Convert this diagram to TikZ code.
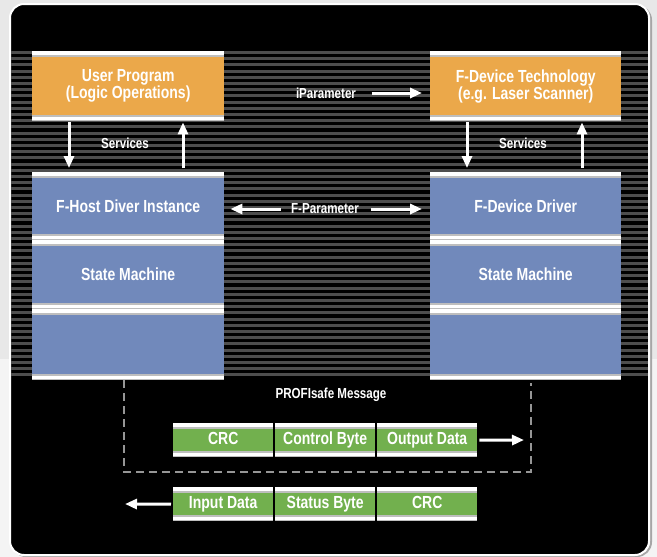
\documentclass[tikz,border=0pt]{standalone}
\usepackage{fontspec}
\setmainfont{Liberation Sans}[FakeStretch=0.8]
\usepackage{tikz}
\usetikzlibrary{arrows.meta}

\definecolor{userorange}{RGB}{235,168,74}
\definecolor{drvblue}{RGB}{113,137,187}
\definecolor{msggreen}{RGB}{114,176,78}
\definecolor{stripegray}{RGB}{78,78,78}
\definecolor{loopgray}{RGB}{150,150,150}
\definecolor{bargray}{RGB}{190,190,190}
\definecolor{bgtop}{RGB}{232,232,232}
\definecolor{bgbot}{RGB}{244,244,244}

\tikzset{
  layer/.style={anchor=north west, inner sep=0pt, minimum width=192pt, text=white,
    align=center, font=\bfseries\fontsize{17.5}{17}\selectfont,
    path picture={
      \fill[white] (path picture bounding box.north west) rectangle ([yshift=-6pt]path picture bounding box.north east);
      \fill[bargray] ([yshift=-4pt]path picture bounding box.north west) rectangle ([yshift=-6pt]path picture bounding box.north east);
      \fill[white] ([yshift=6pt]path picture bounding box.south west) rectangle (path picture bounding box.south east);
      \fill[bargray] ([yshift=6pt]path picture bounding box.south west) rectangle ([yshift=4pt]path picture bounding box.south east);
      \fill[bargray] ([yshift=1.2pt]path picture bounding box.south west) rectangle (path picture bounding box.south east);
    }},
  usrbox/.style={layer, fill=userorange, minimum height=70pt},
  drvbox/.style={layer, fill=drvblue},
  msgbox/.style={layer, fill=msggreen, minimum width=100pt, minimum height=34pt,
    text height=12.5pt, text depth=3.5pt},
  lbl/.style={text=white, font=\bfseries\fontsize{14.5}{15}\selectfont},
  arr/.style={white, line width=3pt, -{Triangle[length=12pt,width=10pt]}},
  msgloop/.style={loopgray, line width=1.5pt, dash pattern=on 8pt off 5pt},
}

\begin{document}
\begin{tikzpicture}[x=1pt,y=-1pt]

	\useasboundingbox (0,0) rectangle (657,557);
	
	% frame
	\fill[bgtop] (0,0) rectangle (657,359);
	\fill[bgbot] (0,359) rectangle (657,557);
	\draw[black!35, line width=2pt, rounded corners=14pt] (12,6) rectangle (651,556);
	\draw[white, line width=2pt, fill=black, rounded corners=14pt] (10,4) rectangle (649,555);
	\foreach \i in {0,...,52}
		\fill[stripegray] (11,{51+6.2*\i}) rectangle (648,{54+6.2*\i});
	
	% host side
	\node[usrbox] (up) at (32,51) {User Program\\(Logic Operations)};
	\node[drvbox, minimum height=68pt] (hd) at (32,172) {F-Host Diver Instance};
	\node[drvbox, minimum height=69pt] (hs) at (32,240) {State Machine};
	\node[drvbox, minimum height=71pt] (hx) at (32,309) {};
	
	% device side
	\node[usrbox, minimum width=191pt] (dt) at (430,51) {F-Device Technology\\(e.g. Laser Scanner)};
	\node[drvbox, minimum width=191pt, minimum height=68pt] (dd) at (430,172) {F-Device Driver};
	\node[drvbox, minimum width=191pt, minimum height=69pt] (ds) at (430,240) {State Machine};
	\node[drvbox, minimum width=191pt, minimum height=71pt] (dx) at (430,309) {};
	
	% labels
	\node[lbl] (hsv) at (125,143) {Services};
	\node[lbl] (dsv) at (523,143) {Services};
	\node[lbl] (ip) at (326,93) {iParameter};
	\node[lbl] (fp) at (325,209) {F-Parameter};
	\node[lbl] (pm) at (331,395) {PROFIsafe Message};
	
	\draw[arr, shorten <=1pt, shorten >=4pt] ([xshift=37pt]up.south west) -- ([xshift=37pt]hd.north west);
	\draw[arr, shorten <=4pt, shorten >=1pt] ([xshift=151pt]hd.north west) -- ([xshift=151pt]up.south west);
	\draw[arr, shorten <=1pt, shorten >=4pt] ([xshift=37pt]dt.south west) -- ([xshift=37pt]dd.north west);
	\draw[arr, shorten <=4pt, shorten >=1pt] ([xshift=152pt]dd.north west) -- ([xshift=152pt]dt.south west);
	\draw[arr, shorten <=12pt, shorten >=8pt] (ip.east) -- (dt.west |- ip.east);
	\draw[arr, shorten <=7pt, shorten >=6pt] (fp.west) -- (hd.east |- fp.west);
	\draw[arr, shorten <=9pt, shorten >=8pt] (fp.east) -- (dd.west |- fp.east);
	
	% message
	\coordinate (loopr) at (531,472);
	\draw[msgloop] ([xshift=92pt]hx.south west) |- (loopr) -- ([xshift=101pt,yshift=-3pt]dx.south west);
	
	\node[msgbox] (crc1) at (173,423) {CRC};
	\node[msgbox] (cb) at (275,423) {Control Byte};
	\node[msgbox] (od) at (377,423) {Output Data};
	\node[msgbox] (id) at (173,487) {Input Data};
	\node[msgbox] (sb) at (275,487) {Status Byte};
	\node[msgbox] (crc2) at (377,487) {CRC};
	
	\coordinate (outtip) at (524,440);
	\coordinate (intip) at (125,504);
	\draw[arr, shorten <=2pt] (od.east) -- (outtip);
	\draw[arr, shorten <=2pt] (id.west) -- (intip);
	
\end{tikzpicture}
\end{document}
